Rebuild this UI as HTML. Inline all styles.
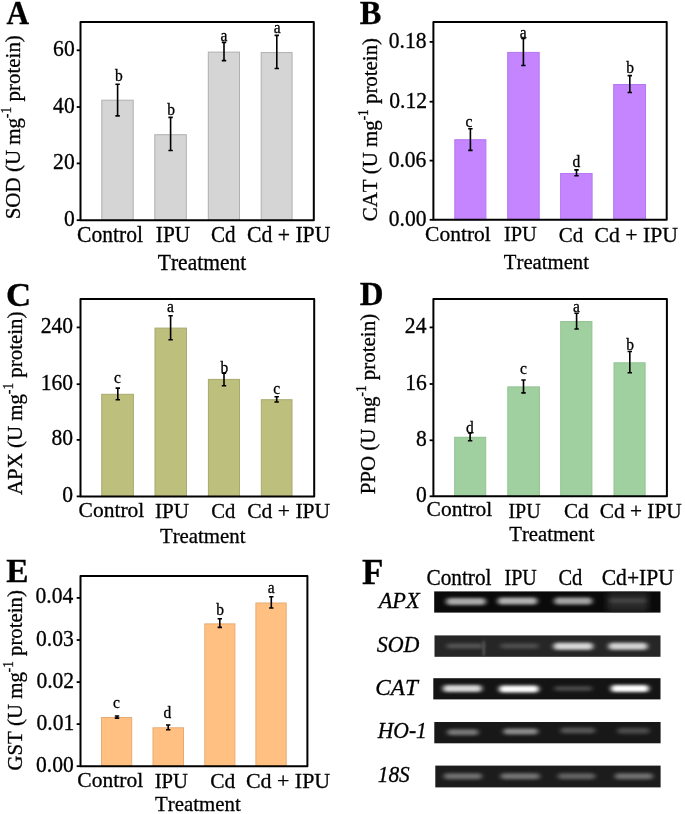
<!DOCTYPE html>
<html><head><meta charset="utf-8"><style>
html,body{margin:0;padding:0;background:#fff;}
body{width:685px;height:814px;overflow:hidden;font-family:"Liberation Serif", serif;}
svg{display:block;filter:blur(0.35px);}
</style></head><body>
<svg width="685" height="814" viewBox="0 0 685 814" font-family='"Liberation Serif", serif' style="font-kerning:none">
<rect width="685" height="814" fill="#fff"/>
<style>text{stroke:#000;stroke-width:0.3px;paint-order:stroke;fill:#000}</style>
<g>
<rect x="101.8" y="100.2" width="31.4" height="120.0" fill="#d5d5d5" stroke="#b0b0b0" stroke-width="1"/>
<rect x="154.8" y="134.7" width="31.5" height="85.5" fill="#d5d5d5" stroke="#b0b0b0" stroke-width="1"/>
<rect x="208.3" y="52.1" width="31.2" height="168.1" fill="#d5d5d5" stroke="#b0b0b0" stroke-width="1"/>
<rect x="261.2" y="52.6" width="30.9" height="167.6" fill="#d5d5d5" stroke="#b0b0b0" stroke-width="1"/>
<path d="M117.6 84.3V115.9M115.4 84.3H119.8M115.4 115.9H119.8" stroke="#000" stroke-width="1.6" fill="none"/>
<path d="M170.6 117.4V150.5M168.4 117.4H172.8M168.4 150.5H172.8" stroke="#000" stroke-width="1.6" fill="none"/>
<path d="M224.0 42.4V60.6M221.8 42.4H226.2M221.8 60.6H226.2" stroke="#000" stroke-width="1.6" fill="none"/>
<path d="M276.8 35.4V68.5M274.6 35.4H279.0M274.6 68.5H279.0" stroke="#000" stroke-width="1.6" fill="none"/>
<rect x="80.5" y="22.1" width="233.3" height="198.1" fill="none" stroke="#000" stroke-width="2" stroke-linejoin="round"/>
<path d="M76.7 220.2H80.5" stroke="#000" stroke-width="1.8"/>
<text transform="translate(63.92 225.70) scale(1 1.0300)" font-size="21.6">0</text>
<path d="M76.7 163.4H80.5" stroke="#000" stroke-width="1.8"/>
<text transform="translate(53.12 168.90) scale(1 1.0300)" font-size="21.6">20</text>
<path d="M76.7 107.0H80.5" stroke="#000" stroke-width="1.8"/>
<text transform="translate(53.12 112.50) scale(1 1.0300)" font-size="21.6">40</text>
<path d="M76.7 50.3H80.5" stroke="#000" stroke-width="1.8"/>
<text transform="translate(53.12 55.80) scale(1 1.0300)" font-size="21.6">60</text>
<text transform="translate(115.02 81.00) scale(1 1.0300)" font-size="15.5">b</text>
<text transform="translate(167.22 114.80) scale(1 1.0300)" font-size="15.5">b</text>
<text transform="translate(220.49 40.50) scale(1 1.0300)" font-size="15.5">a</text>
<text transform="translate(273.69 32.90) scale(1 1.0300)" font-size="15.5">a</text>
<text transform="translate(77.12 241.60) scale(1.0080 1.0559)" font-size="21.4">Control</text>
<text transform="translate(155.83 241.90) scale(0.9952 1.0559)" font-size="21.4">IPU</text>
<text transform="translate(211.03 241.90) scale(0.9860 1.0559)" font-size="21.4">Cd</text>
<text transform="translate(246.91 241.90) scale(1.0161 1.0559)" font-size="21.4">Cd + IPU</text>
<text transform="translate(157.81 269.70) scale(1.0055 1.0559)" font-size="21.4">Treatment</text>
<text transform="translate(20.00 219.30) rotate(-90) scale(1.0001 1.0301)" font-size="21.0">SOD (U mg<tspan font-size="13.3" y="-8.7">-1</tspan><tspan y="0"> protein)</tspan></text>
<text transform="translate(6.50 23.50) scale(0.9601 1.0147)" font-size="32.5" font-weight="bold">A</text>
</g>
<g>
<rect x="454.8" y="139.7" width="31.1" height="80.1" fill="#c485ff" stroke="#b478f0" stroke-width="1"/>
<rect x="507.7" y="52.4" width="31.5" height="167.4" fill="#c485ff" stroke="#b478f0" stroke-width="1"/>
<rect x="560.6" y="173.5" width="31.5" height="46.3" fill="#c485ff" stroke="#b478f0" stroke-width="1"/>
<rect x="613.7" y="84.5" width="31.8" height="135.3" fill="#c485ff" stroke="#b478f0" stroke-width="1"/>
<path d="M470.4 128.7V150.4M468.2 128.7H472.6M468.2 150.4H472.6" stroke="#000" stroke-width="1.6" fill="none"/>
<path d="M523.4 38.4V65.5M521.2 38.4H525.6M521.2 65.5H525.6" stroke="#000" stroke-width="1.6" fill="none"/>
<path d="M576.5 169.9V175.8M574.3 169.9H578.7M574.3 175.8H578.7" stroke="#000" stroke-width="1.6" fill="none"/>
<path d="M629.8 75.6V92.5M627.6 75.6H632.0M627.6 92.5H632.0" stroke="#000" stroke-width="1.6" fill="none"/>
<rect x="433.4" y="22.0" width="233.3" height="197.8" fill="none" stroke="#000" stroke-width="2" stroke-linejoin="round"/>
<path d="M429.6 219.8H433.4" stroke="#000" stroke-width="1.8"/>
<text transform="translate(388.82 225.80) scale(1 1.0300)" font-size="21.6">0.00</text>
<path d="M429.6 160.6H433.4" stroke="#000" stroke-width="1.8"/>
<text transform="translate(388.64 166.60) scale(1 1.0300)" font-size="21.6">0.06</text>
<path d="M429.6 101.7H433.4" stroke="#000" stroke-width="1.8"/>
<text transform="translate(389.19 107.70) scale(1 1.0300)" font-size="21.6">0.12</text>
<path d="M429.6 41.9H433.4" stroke="#000" stroke-width="1.8"/>
<text transform="translate(388.82 47.90) scale(1 1.0300)" font-size="21.6">0.18</text>
<text transform="translate(465.50 126.50) scale(1 1.0300)" font-size="15.5">c</text>
<text transform="translate(519.79 37.50) scale(1 1.0300)" font-size="15.5">a</text>
<text transform="translate(572.44 166.50) scale(1 1.0300)" font-size="15.5">d</text>
<text transform="translate(626.22 72.90) scale(1 1.0300)" font-size="15.5">b</text>
<text transform="translate(425.02 241.30) scale(1.0065 1.0202)" font-size="21.4">Control</text>
<text transform="translate(503.96 241.30) scale(0.9531 1.0202)" font-size="21.4">IPU</text>
<text transform="translate(558.84 241.50) scale(0.9776 1.0202)" font-size="21.4">Cd</text>
<text transform="translate(594.61 241.50) scale(1.0149 1.0202)" font-size="21.4">Cd + IPU</text>
<text transform="translate(503.83 269.00) scale(0.9689 1.0202)" font-size="21.4">Treatment</text>
<text transform="translate(376.80 221.26) rotate(-90) scale(0.9950 1.0248)" font-size="21.0">CAT (U mg<tspan font-size="13.3" y="-8.7">-1</tspan><tspan y="0"> protein)</tspan></text>
<text transform="translate(359.86 23.80) scale(0.9984 1.0288)" font-size="32.5" font-weight="bold">B</text>
</g>
<g>
<rect x="101.7" y="394.3" width="31.7" height="102.1" fill="#bdbf7d" stroke="#a8aa70" stroke-width="1"/>
<rect x="155.0" y="328.1" width="31.5" height="168.3" fill="#bdbf7d" stroke="#a8aa70" stroke-width="1"/>
<rect x="208.4" y="379.4" width="31.1" height="117.0" fill="#bdbf7d" stroke="#a8aa70" stroke-width="1"/>
<rect x="261.3" y="399.7" width="30.7" height="96.7" fill="#bdbf7d" stroke="#a8aa70" stroke-width="1"/>
<path d="M117.8 388.1V399.7M115.6 388.1H120.0M115.6 399.7H120.0" stroke="#000" stroke-width="1.6" fill="none"/>
<path d="M170.6 315.8V339.8M168.4 315.8H172.8M168.4 339.8H172.8" stroke="#000" stroke-width="1.6" fill="none"/>
<path d="M224.0 373.1V385.8M221.8 373.1H226.2M221.8 385.8H226.2" stroke="#000" stroke-width="1.6" fill="none"/>
<path d="M276.7 396.8V402.0M274.5 396.8H278.9M274.5 402.0H278.9" stroke="#000" stroke-width="1.6" fill="none"/>
<rect x="80.5" y="299.0" width="233.7" height="197.4" fill="none" stroke="#000" stroke-width="2" stroke-linejoin="round"/>
<path d="M76.7 496.4H80.5" stroke="#000" stroke-width="1.8"/>
<text transform="translate(62.32 501.90) scale(1 1.0300)" font-size="21.6">0</text>
<path d="M76.7 439.9H80.5" stroke="#000" stroke-width="1.8"/>
<text transform="translate(51.52 445.40) scale(1 1.0300)" font-size="21.6">80</text>
<path d="M76.7 384.2H80.5" stroke="#000" stroke-width="1.8"/>
<text transform="translate(40.72 389.70) scale(1 1.0300)" font-size="21.6">160</text>
<path d="M76.7 327.4H80.5" stroke="#000" stroke-width="1.8"/>
<text transform="translate(40.72 332.90) scale(1 1.0300)" font-size="21.6">240</text>
<text transform="translate(114.00 383.10) scale(1 1.0300)" font-size="15.5">c</text>
<text transform="translate(166.99 311.90) scale(1 1.0300)" font-size="15.5">a</text>
<text transform="translate(220.42 372.50) scale(1 1.0300)" font-size="15.5">b</text>
<text transform="translate(273.20 394.30) scale(1 1.0300)" font-size="15.5">c</text>
<text transform="translate(78.52 516.70) scale(1.0065 1.0131)" font-size="21.4">Control</text>
<text transform="translate(154.94 518.00) scale(0.9892 1.0131)" font-size="21.4">IPU</text>
<text transform="translate(211.15 518.10) scale(0.9650 1.0131)" font-size="21.4">Cd</text>
<text transform="translate(247.21 518.10) scale(1.0099 1.0131)" font-size="21.4">Cd + IPU</text>
<text transform="translate(159.92 543.20) scale(0.9735 1.0131)" font-size="21.4">Treatment</text>
<text transform="translate(21.50 495.00) rotate(-90) scale(0.9957 1.0256)" font-size="21.0">APX (U mg<tspan font-size="13.3" y="-8.7">-1</tspan><tspan y="0"> protein)</tspan></text>
<text transform="translate(6.00 305.60) scale(1.0717 1.0617)" font-size="32.5" font-weight="bold">C</text>
</g>
<g>
<rect x="454.7" y="437.3" width="31.0" height="59.0" fill="#a0d0a0" stroke="#8fc28f" stroke-width="1"/>
<rect x="507.8" y="386.9" width="31.6" height="109.4" fill="#a0d0a0" stroke="#8fc28f" stroke-width="1"/>
<rect x="560.7" y="321.6" width="31.2" height="174.7" fill="#a0d0a0" stroke="#8fc28f" stroke-width="1"/>
<rect x="614.0" y="362.8" width="31.1" height="133.5" fill="#a0d0a0" stroke="#8fc28f" stroke-width="1"/>
<path d="M470.1 433.0V440.8M467.9 433.0H472.3M467.9 440.8H472.3" stroke="#000" stroke-width="1.6" fill="none"/>
<path d="M523.5 380.0V392.9M521.3 380.0H525.7M521.3 392.9H525.7" stroke="#000" stroke-width="1.6" fill="none"/>
<path d="M576.6 313.3V329.0M574.4 313.3H578.8M574.4 329.0H578.8" stroke="#000" stroke-width="1.6" fill="none"/>
<path d="M629.8 351.5V372.8M627.6 351.5H632.0M627.6 372.8H632.0" stroke="#000" stroke-width="1.6" fill="none"/>
<rect x="433.4" y="299.0" width="233.5" height="197.3" fill="none" stroke="#000" stroke-width="2" stroke-linejoin="round"/>
<path d="M429.6 496.3H433.4" stroke="#000" stroke-width="1.8"/>
<text transform="translate(416.12 501.80) scale(1 1.0300)" font-size="21.6">0</text>
<path d="M429.6 440.3H433.4" stroke="#000" stroke-width="1.8"/>
<text transform="translate(416.12 445.80) scale(1 1.0300)" font-size="21.6">8</text>
<path d="M429.6 384.0H433.4" stroke="#000" stroke-width="1.8"/>
<text transform="translate(405.14 389.50) scale(1 1.0300)" font-size="21.6">16</text>
<path d="M429.6 327.4H433.4" stroke="#000" stroke-width="1.8"/>
<text transform="translate(404.84 332.90) scale(1 1.0300)" font-size="21.6">24</text>
<text transform="translate(465.94 432.50) scale(1 1.0300)" font-size="15.5">d</text>
<text transform="translate(520.00 373.50) scale(1 1.0300)" font-size="15.5">c</text>
<text transform="translate(572.99 311.50) scale(1 1.0300)" font-size="15.5">a</text>
<text transform="translate(626.22 349.70) scale(1 1.0300)" font-size="15.5">b</text>
<text transform="translate(426.62 516.30) scale(1.0049 0.9988)" font-size="21.4">Control</text>
<text transform="translate(508.38 518.00) scale(0.9351 0.9988)" font-size="21.4">IPU</text>
<text transform="translate(564.03 518.10) scale(0.9860 0.9988)" font-size="21.4">Cd</text>
<text transform="translate(599.72 518.10) scale(0.9988 0.9988)" font-size="21.4">Cd + IPU</text>
<text transform="translate(509.22 541.40) scale(0.9701 0.9988)" font-size="21.4">Treatment</text>
<text transform="translate(375.30 494.30) rotate(-90) scale(0.9984 1.0283)" font-size="21.0">PPO (U mg<tspan font-size="13.3" y="-8.7">-1</tspan><tspan y="0"> protein)</tspan></text>
<text transform="translate(359.82 305.30) scale(1.0135 1.0335)" font-size="32.5" font-weight="bold">D</text>
</g>
<g>
<rect x="101.5" y="717.5" width="30.2" height="48.7" fill="#ffc082" stroke="#e8aa72" stroke-width="1"/>
<rect x="153.0" y="727.8" width="30.5" height="38.4" fill="#ffc082" stroke="#e8aa72" stroke-width="1"/>
<rect x="204.8" y="623.9" width="30.1" height="142.3" fill="#ffc082" stroke="#e8aa72" stroke-width="1"/>
<rect x="255.9" y="603.0" width="30.3" height="163.2" fill="#ffc082" stroke="#e8aa72" stroke-width="1"/>
<path d="M117.0 716.0V718.1M114.8 716.0H119.2M114.8 718.1H119.2" stroke="#000" stroke-width="1.6" fill="none"/>
<path d="M168.2 725.0V729.7M166.0 725.0H170.4M166.0 729.7H170.4" stroke="#000" stroke-width="1.6" fill="none"/>
<path d="M219.8 618.7V627.4M217.6 618.7H222.0M217.6 627.4H222.0" stroke="#000" stroke-width="1.6" fill="none"/>
<path d="M271.3 596.8V608.0M269.1 596.8H273.5M269.1 608.0H273.5" stroke="#000" stroke-width="1.6" fill="none"/>
<rect x="80.5" y="576.0" width="226.9" height="190.2" fill="none" stroke="#000" stroke-width="2" stroke-linejoin="round"/>
<path d="M76.7 766.2H80.5" stroke="#000" stroke-width="1.8"/>
<text transform="translate(36.02 771.70) scale(1 1.0300)" font-size="21.6">0.00</text>
<path d="M76.7 724.1H80.5" stroke="#000" stroke-width="1.8"/>
<text transform="translate(36.50 729.60) scale(1 1.0300)" font-size="21.6">0.01</text>
<path d="M76.7 682.1H80.5" stroke="#000" stroke-width="1.8"/>
<text transform="translate(36.39 687.60) scale(1 1.0300)" font-size="21.6">0.02</text>
<path d="M76.7 640.0H80.5" stroke="#000" stroke-width="1.8"/>
<text transform="translate(36.04 645.50) scale(1 1.0300)" font-size="21.6">0.03</text>
<path d="M76.7 597.9H80.5" stroke="#000" stroke-width="1.8"/>
<text transform="translate(35.54 603.40) scale(1 1.0300)" font-size="21.6">0.04</text>
<text transform="translate(112.90 707.90) scale(1 1.0300)" font-size="15.5">c</text>
<text transform="translate(163.44 718.20) scale(1 1.0300)" font-size="15.5">d</text>
<text transform="translate(216.22 615.30) scale(1 1.0300)" font-size="15.5">b</text>
<text transform="translate(267.69 592.80) scale(1 1.0300)" font-size="15.5">a</text>
<text transform="translate(77.32 786.90) scale(1.0080 1.0131)" font-size="21.4">Control</text>
<text transform="translate(154.65 787.60) scale(0.9651 1.0131)" font-size="21.4">IPU</text>
<text transform="translate(210.22 787.50) scale(1.0027 1.0131)" font-size="21.4">Cd</text>
<text transform="translate(245.90 787.50) scale(1.0260 1.0131)" font-size="21.4">Cd + IPU</text>
<text transform="translate(155.02 811.30) scale(0.9746 1.0131)" font-size="21.4">Treatment</text>
<text transform="translate(21.50 770.55) rotate(-90) scale(0.9923 1.0221)" font-size="21.0">GST (U mg<tspan font-size="13.3" y="-8.7">-1</tspan><tspan y="0"> protein)</tspan></text>
<text transform="translate(6.23 582.00) scale(1.0280 1.0147)" font-size="32.5" font-weight="bold">E</text>
</g>
<g>
<text transform="translate(362.10 583.50) scale(1.0142 1.0090)" font-size="34.5" font-weight="bold">F</text>
<text transform="translate(426.43 585.00) scale(0.9956 1.0345)" font-size="21.4">Control</text>
<text transform="translate(504.58 585.00) scale(0.9351 1.0345)" font-size="21.4">IPU</text>
<text transform="translate(558.46 585.00) scale(0.9566 1.0345)" font-size="21.4">Cd</text>
<text transform="translate(601.71 585.00) scale(1.0086 1.0345)" font-size="21.4">Cd+IPU</text>
<defs><filter id="bl" x="-30%" y="-100%" width="160%" height="300%"><feGaussianBlur stdDeviation="2.4 1.6"/></filter><filter id="bl2" x="-30%" y="-100%" width="160%" height="300%"><feGaussianBlur stdDeviation="3 3"/></filter><filter id="bl3" x="-200%" y="-50%" width="500%" height="200%"><feGaussianBlur stdDeviation="1 1.5"/></filter></defs>
<clipPath id="cp0"><rect x="434.2" y="591.4" width="226.3" height="21.2"/></clipPath>
<rect x="434.2" y="591.4" width="226.3" height="21.2" fill="rgb(10,10,10)"/>
<g clip-path="url(#cp0)">
<rect x="607.5" y="592.4" width="40.5" height="19.2" fill="#2a2a2a" filter="url(#bl2)"/>
<rect x="446.2" y="598.0" width="39.6" height="7" rx="3.5" fill="rgb(170,170,170)" filter="url(#bl)"/>
<rect x="497.7" y="597.5" width="39.6" height="7" rx="3.5" fill="rgb(178,178,178)" filter="url(#bl)"/>
<rect x="554.3" y="597.5" width="37.9" height="7" rx="3.5" fill="rgb(165,165,165)" filter="url(#bl)"/>
<rect x="609.5" y="598.8" width="36.4" height="4" rx="2.0" fill="rgb(70,70,70)" filter="url(#bl)"/>
</g>
<text transform="translate(378.63 607.80) scale(0.9957 0.9839)" font-size="22.5" font-style="italic">APX</text>
<clipPath id="cp1"><rect x="434.5" y="635.4" width="226.0" height="21.4"/></clipPath>
<rect x="434.5" y="635.4" width="226.0" height="21.4" fill="rgb(38,38,38)"/>
<g clip-path="url(#cp1)">
<rect x="482.6" y="641" width="2.2" height="15" fill="#585858" filter="url(#bl3)"/>
<rect x="446.5" y="643.5" width="37.0" height="5" rx="2.5" fill="rgb(85,85,85)" filter="url(#bl)"/>
<rect x="500.5" y="643.5" width="38.0" height="5" rx="2.5" fill="rgb(80,80,80)" filter="url(#bl)"/>
<rect x="553.5" y="642.7" width="39.5" height="7" rx="3.5" fill="rgb(215,215,215)" filter="url(#bl)"/>
<rect x="608.5" y="642.7" width="39.0" height="7" rx="3.5" fill="rgb(210,210,210)" filter="url(#bl)"/>
</g>
<text transform="translate(376.74 652.00) scale(0.9781 1.0178)" font-size="22.5" font-style="italic">SOD</text>
<clipPath id="cp2"><rect x="433.3" y="678.2" width="227.2" height="21.2"/></clipPath>
<rect x="433.3" y="678.2" width="227.2" height="21.2" fill="rgb(20,20,20)"/>
<g clip-path="url(#cp2)">
<rect x="443.0" y="685.1" width="38.8" height="7" rx="3.5" fill="rgb(215,215,215)" filter="url(#bl)"/>
<rect x="499.1" y="685.5" width="39.6" height="7" rx="3.5" fill="rgb(255,255,255)" filter="url(#bl)"/>
<rect x="554.3" y="686.0" width="37.9" height="5" rx="2.5" fill="rgb(70,70,70)" filter="url(#bl)"/>
<rect x="610.9" y="685.1" width="37.9" height="7" rx="3.5" fill="rgb(255,255,255)" filter="url(#bl)"/>
</g>
<text transform="translate(375.21 694.90) scale(1.0329 1.0110)" font-size="22.5" font-style="italic">CAT</text>
<clipPath id="cp3"><rect x="434.3" y="722.0" width="226.3" height="21.3"/></clipPath>
<rect x="434.3" y="722.0" width="226.3" height="21.3" fill="rgb(24,24,24)"/>
<g clip-path="url(#cp3)">
<rect x="447.4" y="729.2" width="30.9" height="6" rx="3.0" fill="rgb(120,120,120)" filter="url(#bl)"/>
<rect x="503.5" y="728.6" width="34.4" height="6" rx="3.0" fill="rgb(140,140,140)" filter="url(#bl)"/>
<rect x="560.6" y="727.6" width="34.5" height="6" rx="3.0" fill="rgb(85,85,85)" filter="url(#bl)"/>
<rect x="617.5" y="727.8" width="31.9" height="6" rx="3.0" fill="rgb(75,75,75)" filter="url(#bl)"/>
</g>
<text transform="translate(377.73 738.30) scale(0.9600 1.0042)" font-size="22.5" font-style="italic">HO-1</text>
<clipPath id="cp4"><rect x="435.3" y="765.6" width="225.3" height="21.8"/></clipPath>
<rect x="435.3" y="765.6" width="225.3" height="21.8" fill="rgb(28,28,28)"/>
<g clip-path="url(#cp4)">
<rect x="443.9" y="773.3" width="37.9" height="6" rx="3.0" fill="rgb(112,112,112)" filter="url(#bl)"/>
<rect x="500.8" y="773.3" width="38.8" height="6" rx="3.0" fill="rgb(115,115,115)" filter="url(#bl)"/>
<rect x="558.0" y="773.3" width="37.1" height="6" rx="3.0" fill="rgb(98,98,98)" filter="url(#bl)"/>
<rect x="614.9" y="773.3" width="38.0" height="6" rx="3.0" fill="rgb(112,112,112)" filter="url(#bl)"/>
</g>
<text transform="translate(377.74 781.50) scale(0.9483 1.0110)" font-size="22.5" font-style="italic">18S</text>
</g>
</svg>
</body></html>
